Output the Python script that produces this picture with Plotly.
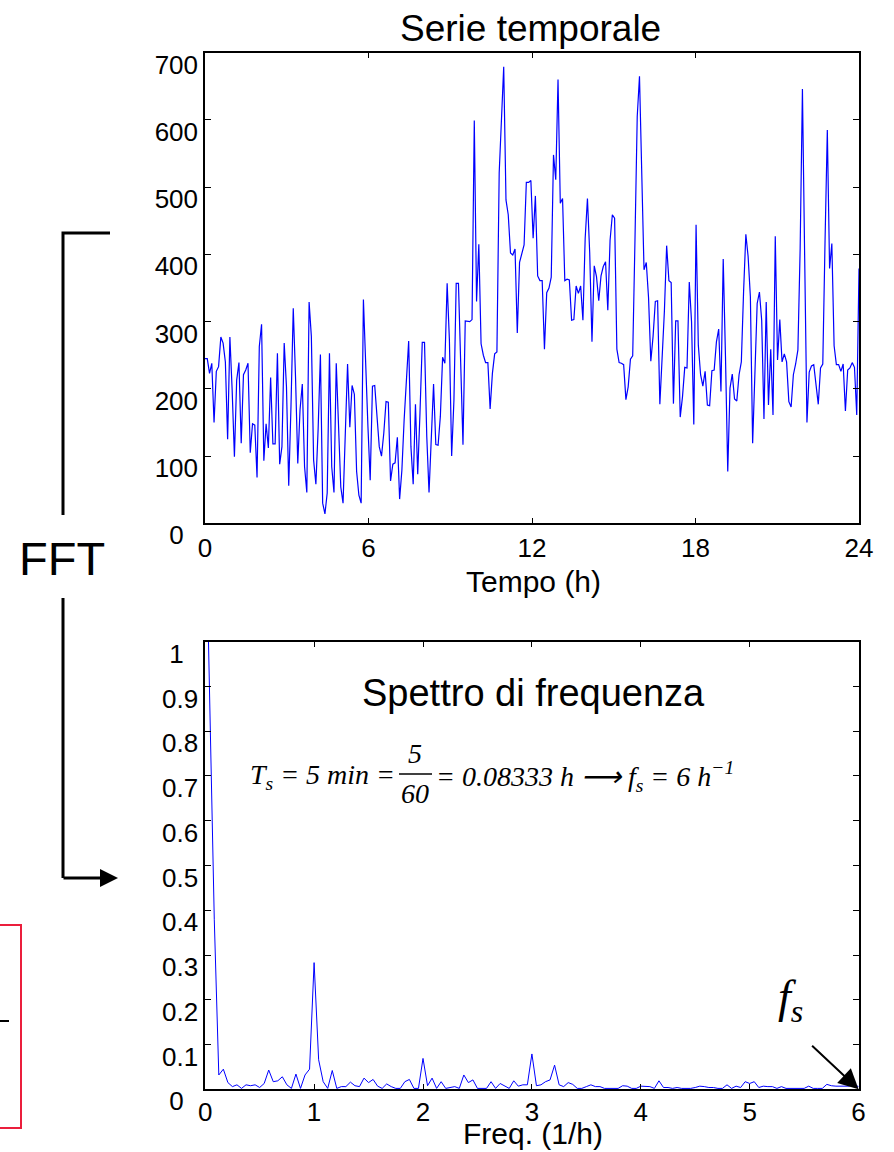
import numpy as np
import plotly.graph_objects as go

W, H = 894, 1152

# ---------------- data ----------------
serie = [
    245, 245, 223, 238, 150, 226, 233, 277, 268, 240,
    125, 277, 198, 99, 213, 239, 119, 221, 228, 238,
    105, 148, 146, 68, 263, 296, 93, 148, 112, 217,
    118, 118, 253, 88, 114, 268, 203, 56, 174, 320,
    218, 89, 169, 207, 84, 46, 329, 278, 94, 58,
    141, 251, 30, 14, 45, 253, 84, 46, 238, 154,
    54, 30, 134, 237, 143, 205, 192, 77, 42, 30,
    333, 228, 144, 64, 204, 205, 155, 114, 100, 134,
    181, 180, 63, 88, 90, 128, 36, 79, 154, 218,
    271, 114, 58, 177, 73, 164, 269, 269, 129, 46,
    124, 207, 117, 116, 159, 247, 238, 357, 273, 100,
    183, 357, 357, 228, 117, 301, 300, 300, 303, 599,
    330, 415, 267, 250, 239, 239, 170, 223, 252, 255,
    521, 609, 679, 481, 459, 402, 399, 408, 283, 388,
    402, 414, 507, 507, 510, 424, 487, 368,
    361, 361, 259, 343, 350, 366, 548, 511, 660, 476,
    483, 361, 363, 362, 302, 303, 353, 342, 353, 302,
    424, 483, 402, 270, 383, 367, 331, 368, 382, 389,
    317, 421, 459, 454, 259, 239, 238, 236, 184, 203,
    244, 249, 421, 605, 665, 516, 377, 388, 336, 241,
    278, 330, 331, 177, 243, 315, 413, 361, 358, 178,
    301, 301, 158, 188, 232, 231, 359, 300, 147, 444,
    265, 221, 204, 226, 176, 175, 227, 228, 270, 289,
    196, 393, 248, 77, 201, 222, 185, 182, 221, 240,
    345, 430, 397, 337, 119, 243, 327, 344, 302, 155,
    329, 176, 259, 161, 427, 243, 303, 240, 252, 240,
    181, 173, 221, 237, 258, 409, 646, 394, 150, 225,
    234, 236, 203, 177, 231, 237, 421, 585, 379, 416,
    264, 236, 236, 226, 237, 167, 228, 231, 239, 232,
    161, 379,
]
tempo = np.linspace(0, 24, len(serie))

spettro = [
    1.35, 0.84, 0.38, 0.032, 0.045, 0.015, 0.006, 0.010, 0.002, 0.010,
    0.008, 0.010, 0.004, 0.013, 0.043, 0.017, 0.019, 0.028, 0.010, 0.002,
    0.034, 0.002, 0.032, 0.045, 0.283, 0.066, 0.017, 0.002, 0.042, 0.002,
    0.006, 0.006, 0.016, 0.008, 0.006, 0.025, 0.015, 0.022, 0.007, 0.002,
    0.012, 0.006, 0.002, 0.002, 0.017, 0.022, 0.002, 0.002, 0.069, 0.008,
    0.025, 0.002, 0.017, 0.002, 0.004, 0.006, 0.002, 0.032, 0.015, 0.021,
    0.002, 0.002, 0.002, 0.017, 0.002, 0.013, 0.008, 0.002, 0.019, 0.007,
    0.010, 0.010, 0.079, 0.008, 0.010, 0.017, 0.021, 0.054, 0.010, 0.006,
    0.015, 0.011, 0.002, 0.002, 0.006, 0.010, 0.006, 0.006, 0.002, 0.002,
    0.002, 0.002, 0.008, 0.007, 0.002, 0.002, 0.007, 0.006, 0.006, 0.002,
    0.019, 0.004, 0.004, 0.002, 0.004, 0.002, 0.002, 0.002, 0.004, 0.007,
    0.006, 0.004, 0.004, 0.002, 0.002, 0.010, 0.002, 0.007, 0.004, 0.017,
    0.013, 0.017, 0.004, 0.007, 0.006, 0.006, 0.002, 0.006, 0.002, 0.002,
    0.002, 0.002, 0.002, 0.007, 0.002, 0.002, 0.002, 0.011, 0.008, 0.007,
    0.007, 0.007, 0.007, 0.010, 0.006,
]
fs = 6
freq = np.linspace(0, fs, len(spettro))

t_ticks = [0, 6, 12, 18, 24]
v_ticks = [0, 100, 200, 300, 400, 500, 600, 700]
v_ticktext = ["0\u00a0\u00a0", "100", "200", "300", "400", "500", "600", "700"]
f_ticks = [0, 1, 2, 3, 4, 5, 6]
a_ticks = [0, 0.1, 0.2, 0.3, 0.4, 0.5, 0.6, 0.7, 0.8, 0.9, 1]
a_ticktext = ["0\u00a0\u00a0", "0.1", "0.2", "0.3", "0.4", "0.5", "0.6", "0.7", "0.8", "0.9",
              "1\u00a0\u00a0"]

# ---------------- helpers ----------------
def px(x):
    return x / W

def py(y):
    return 1 - y / H

SANS = "Arial, Liberation Sans, sans-serif"
SERIF = "Times New Roman, Liberation Serif, serif"
BLUE = "rgb(0,0,255)"
TICKF = 26

fig = go.Figure()
fig.add_trace(go.Scatter(x=tempo, y=serie, mode="lines",
                         line=dict(color=BLUE, width=1.2),
                         xaxis="x", yaxis="y", showlegend=False, hoverinfo="skip"))
fig.add_trace(go.Scatter(x=freq, y=spettro, mode="lines",
                         line=dict(color=BLUE, width=1),
                         xaxis="x2", yaxis="y2", showlegend=False, hoverinfo="skip"))

axis_common = dict(showgrid=False, zeroline=False, showline=True, linecolor="black",
                   linewidth=1.5, mirror="allticks", ticks="inside", ticklen=6,
                   tickcolor="black", tickwidth=1, automargin=False,
                   tickfont=dict(family=SANS, size=TICKF, color="black"))

fig.update_layout(
    width=W, height=H,
    margin=dict(l=0, r=0, t=0, b=0, autoexpand=False),
    paper_bgcolor="white", plot_bgcolor="white",
    xaxis=dict(domain=[px(205), px(859)], range=[0, 24], tickmode="array",
               tickvals=t_ticks, anchor="y", ticklabelstandoff=1, **axis_common),
    yaxis=dict(domain=[py(523.3), py(52.7)], range=[0, 700], tickmode="array",
               tickvals=v_ticks, ticktext=v_ticktext, anchor="x", ticklabelshift=12,
               ticklabelstandoff=0, **axis_common),
    xaxis2=dict(domain=[px(205.2), px(858.6)], range=[0, 6], tickmode="array",
                tickvals=f_ticks, anchor="y2", ticklabelstandoff=-1, **axis_common),
    yaxis2=dict(domain=[py(1089.3), py(641.7)], range=[0, 1], tickmode="array",
                tickvals=a_ticks, ticktext=a_ticktext, anchor="x2", ticklabelshift=12,
                ticklabelstandoff=0, **axis_common),
)

ann = []

def text(x, y, s, size, family=SANS, xanchor="center", yanchor="middle"):
    ann.append(dict(x=px(x), y=py(y), xref="paper", yref="paper", text=s,
                    showarrow=False, xanchor=xanchor, yanchor=yanchor,
                    font=dict(family=family, size=size, color="black")))

text(530, 28, "Serie temporale", 37)
text(533, 581, "Tempo (h)", 30)
text(533, 693, "Spettro di frequenza", 38)
text(533, 1133, "Freq. (1/h)", 30)
text(62, 558, "FFT", 47)

# equation
EQF = 28
text(397, 776, "<i>T<sub>s</sub> = 5 min =</i>", EQF, family=SERIF, xanchor="right")
text(415, 753, "<i>5</i>", EQF, family=SERIF)
text(415, 793, "<i>60</i>", EQF, family=SERIF)
text(434, 776, "<i>= 0.08333 h \u27f6 f<sub>s</sub> = 6 h<sup>\u22121</sup></i>", EQF,
     family=SERIF, xanchor="left")

# f_s label with arrow
text(790, 1000, "<i>f<sub>s</sub></i>", 46, family=SERIF)
ann.append(dict(x=6, y=0, xref="x2", yref="y2", ax=-48, ay=-45, axref="pixel", ayref="pixel",
                text="", showarrow=True, arrowhead=2, arrowsize=2, arrowwidth=2,
                arrowcolor="black"))

# FFT bracket arrow
ann.append(dict(x=px(118), y=py(878), xref="paper", yref="paper", ax=-56, ay=0,
                text="", showarrow=True, arrowhead=2, arrowsize=1.2, arrowwidth=3,
                arrowcolor="black"))

fig.update_layout(annotations=ann)

shapes = [
    # fraction bar
    dict(type="line", xref="paper", yref="paper", x0=px(399), x1=px(432),
         y0=py(774), y1=py(774), line=dict(color="black", width=1.5)),
    # upper bracket
    dict(type="path", xref="paper", yref="paper",
         path=f"M {px(110)} {py(233)} L {px(63)} {py(233)} L {px(63)} {py(515)}",
         line=dict(color="black", width=3)),
    # lower bracket
    dict(type="line", xref="paper", yref="paper", x0=px(63), x1=px(63),
         y0=py(598), y1=py(878), line=dict(color="black", width=3)),
    # red box (partially outside)
    dict(type="rect", xref="paper", yref="paper", x0=px(-20), x1=px(21),
         y0=py(1128), y1=py(925), line=dict(color="rgb(235,30,60)", width=2)),
    dict(type="line", xref="paper", yref="paper", x0=px(0), x1=px(9),
         y0=py(1021), y1=py(1021), line=dict(color="black", width=2)),
]
fig.update_layout(shapes=shapes)

fig.write_html("out.html")
